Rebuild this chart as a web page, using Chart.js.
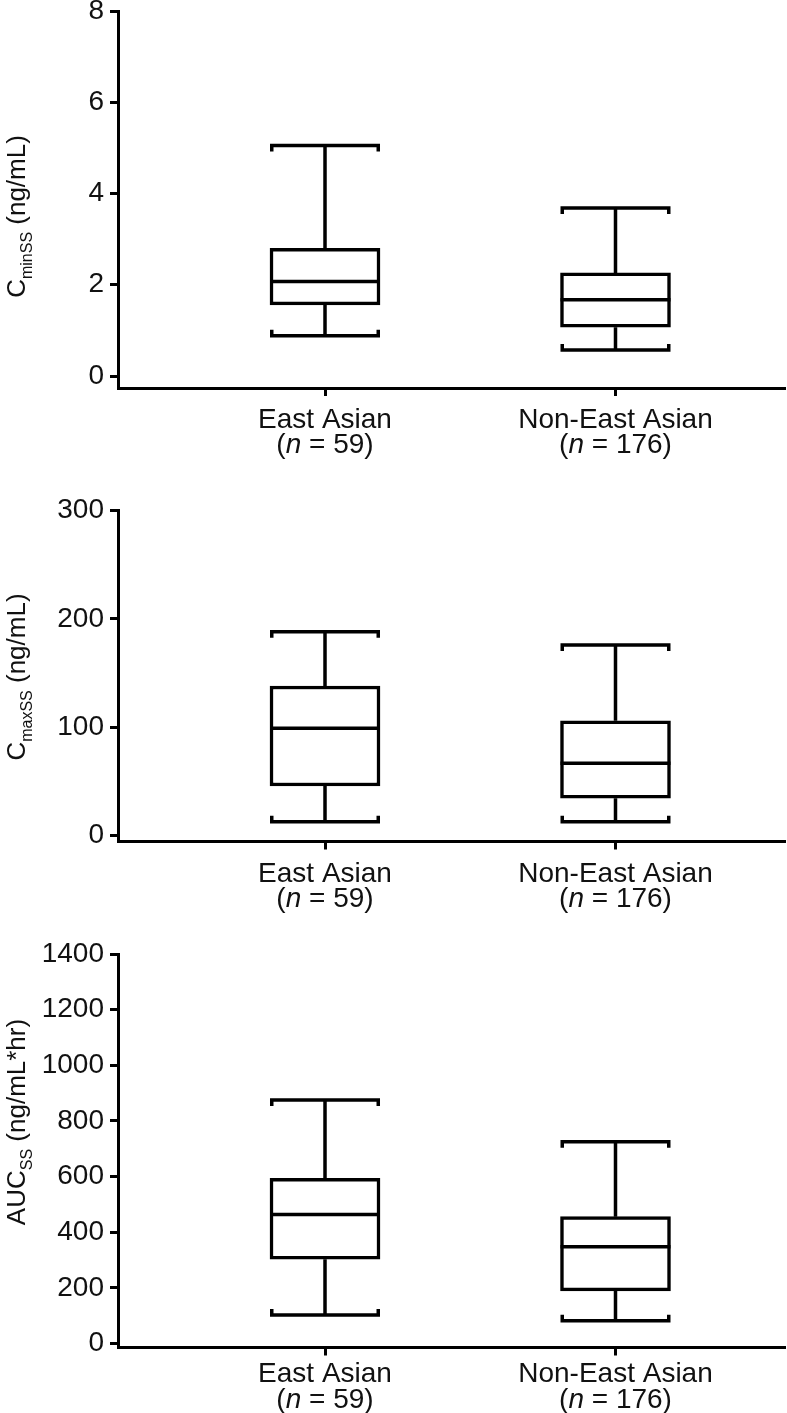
<!DOCTYPE html>
<html>
<head>
<meta charset="utf-8">
<script src="https://cdn.jsdelivr.net/npm/chart.js@4.4.1/dist/chart.umd.min.js"></script>
<style>
  html, body { margin: 0; padding: 0; background: #ffffff; }
  #wrap { position: relative; width: 787px; height: 1413px; overflow: hidden; background: #ffffff; }
  .pane { position: absolute; left: 0; }
  canvas { display: block; }
</style>
</head>
<body>
<div id="wrap">
  <div class="pane" style="top:-20px"><canvas id="c1" width="787" height="480"></canvas></div>
  <div class="pane" style="top:480px"><canvas id="c2" width="787" height="440"></canvas></div>
  <div class="pane" style="top:920px"><canvas id="c3" width="787" height="493"></canvas></div>
</div>
<script>
// ---------------- DATA ----------------
const categories = ['East Asian', 'Non-East Asian'];
const groupSizes = [59, 176];
const categoryX = [1, 2];

// Cmin,ss (ng/mL)
const cminLow    = [0.88, 0.57];
const cminQ1     = [1.56, 1.07];
const cminMedian = [2.07, 1.67];
const cminQ3     = [2.80, 2.26];
const cminHigh   = [5.05, 3.68];
const cminTicks  = [0, 2, 4, 6, 8];

// Cmax,ss (ng/mL)
const cmaxLow    = [12.7, 12.7];
const cmaxQ1     = [45.7, 34.4];
const cmaxMedian = [99.0, 66.7];
const cmaxQ3     = [138.1, 106.0];
const cmaxHigh   = [188.2, 176.0];
const cmaxTicks  = [0, 100, 200, 300];

// AUC,ss (ng/mL*hr)
const aucLow     = [102, 82];
const aucQ1      = [303, 189];
const aucMedian  = [464, 348];
const aucQ3      = [594, 456];
const aucHigh    = [875, 725];
const aucTicks   = [0, 200, 400, 600, 800, 1000, 1200, 1400];

// ---------------- STYLE ----------------
const FONT = '"Liberation Sans", Arial, Helvetica, sans-serif';
const INK = '#111111';
const LINE = '#000000';
const LW = 3.5;

function boxPlugin(stats) {
  return {
    id: 'boxWhiskers',
    afterDatasetsDraw(chart) {
      const ctx = chart.ctx;
      const xs = chart.scales.x, ys = chart.scales.y;
      const meta = chart.getDatasetMeta(0);
      ctx.save();
      ctx.strokeStyle = LINE;
      ctx.lineWidth = LW;
      ctx.lineCap = 'butt';
      ctx.lineJoin = 'miter';
      const h = LW / 2;
      meta.data.forEach((bar, i) => {
        const cx = xs.getPixelForValue(categoryX[i]);
        const half = bar.width / 2;
        const yLow = ys.getPixelForValue(stats.low[i]);
        const yQ1 = ys.getPixelForValue(stats.q1[i]);
        const yMed = ys.getPixelForValue(stats.med[i]);
        const yQ3 = ys.getPixelForValue(stats.q3[i]);
        const yHigh = ys.getPixelForValue(stats.high[i]);
        const capTick = 6;
        ctx.beginPath();
        ctx.moveTo(cx, yQ3); ctx.lineTo(cx, yHigh);
        ctx.moveTo(cx, yQ1); ctx.lineTo(cx, yLow);
        ctx.stroke();
        // caps
        ctx.beginPath();
        ctx.moveTo(cx - half + h, yHigh + capTick);
        ctx.lineTo(cx - half + h, yHigh);
        ctx.lineTo(cx + half - h, yHigh);
        ctx.lineTo(cx + half - h, yHigh + capTick);
        ctx.stroke();
        ctx.beginPath();
        ctx.moveTo(cx - half + h, yLow - capTick);
        ctx.lineTo(cx - half + h, yLow);
        ctx.lineTo(cx + half - h, yLow);
        ctx.lineTo(cx + half - h, yLow - capTick);
        ctx.stroke();
        // median
        ctx.beginPath();
        ctx.moveTo(cx - half, yMed); ctx.lineTo(cx + half, yMed);
        ctx.stroke();
      });
      ctx.restore();
    }
  };
}

function labelPlugin(opt) {
  return {
    id: 'textLabels',
    afterDraw(chart) {
      const ctx = chart.ctx;
      const xs = chart.scales.x;
      const axisY = chart.chartArea.bottom;
      const F = '28px ' + FONT, FI = 'italic 28px ' + FONT;
      ctx.save();
      ctx.fillStyle = INK;
      ctx.textBaseline = 'alphabetic';
      categories.forEach((cat, i) => {
        const cx = xs.getPixelForValue(categoryX[i]);
        ctx.font = F;
        ctx.textAlign = 'center';
        ctx.fillText(cat, cx, axisY + opt.line1);
        const pre = '(', nn = 'n', post = ' = ' + groupSizes[i] + ')';
        ctx.font = F;
        const wPre = ctx.measureText(pre).width;
        const wPost = ctx.measureText(post).width;
        ctx.font = FI;
        const wN = ctx.measureText(nn).width;
        let x = cx - (wPre + wN + wPost) / 2;
        ctx.textAlign = 'left';
        ctx.font = F;
        ctx.fillText(pre, x, axisY + opt.line2); x += wPre;
        ctx.font = FI;
        ctx.fillText(nn, x, axisY + opt.line2); x += wN;
        ctx.font = F;
        ctx.fillText(post, x, axisY + opt.line2);
      });
      // y-axis title with subscript
      ctx.translate(opt.titleX, opt.titleY);
      ctx.rotate(-Math.PI / 2);
      ctx.textAlign = 'left';
      ctx.font = '26px ' + FONT;
      const w1 = ctx.measureText(opt.titleMain).width;
      const w3 = ctx.measureText(opt.titleRest).width;
      ctx.font = '16px ' + FONT;
      const w2 = ctx.measureText(opt.titleSub).width;
      let tx = -(w1 + w2 + w3) / 2;
      ctx.font = '26px ' + FONT;
      ctx.fillText(opt.titleMain, tx, 0); tx += w1;
      ctx.font = '16px ' + FONT;
      ctx.fillText(opt.titleSub, tx, 7); tx += w2;
      ctx.font = '26px ' + FONT;
      ctx.fillText(opt.titleRest, tx, 0);
      ctx.restore();
    }
  };
}

function makeChart(id, stats, ticks, yMin, yMax, padTop, xAxisH, lab) {
  const data = categoryX.map((x, i) => ({ x: x, y: [stats.q1[i], stats.q3[i]] }));
  return new Chart(document.getElementById(id), {
    type: 'bar',
    data: {
      datasets: [{
        data: data,
        backgroundColor: '#ffffff',
        borderColor: LINE,
        borderWidth: LW,
        borderSkipped: false,
        barThickness: 110
      }]
    },
    options: {
      responsive: false,
      animation: false,
      events: [],
      layout: { padding: { top: padTop, left: 0, right: 2, bottom: 0 } },
      plugins: { legend: { display: false }, tooltip: { enabled: false } },
      scales: {
        x: {
          type: 'linear',
          offset: false,
          min: 0.2874,
          max: 2.5835,
          afterBuildTicks: sc => { sc.ticks = categoryX.map(v => ({ value: v })); },
          afterFit: sc => { sc.height = xAxisH; },
          border: { display: true, color: LINE, width: 3 },
          grid: { offset: false, drawOnChartArea: false, drawTicks: true, tickLength: 8, tickWidth: 3, tickColor: LINE },
          ticks: { display: false }
        },
        y: {
          min: yMin,
          max: yMax,
          afterBuildTicks: sc => { sc.ticks = ticks.map(v => ({ value: v })); },
          afterFit: sc => { sc.width = 118; },
          border: { display: true, color: LINE, width: 3 },
          grid: { drawOnChartArea: false, drawTicks: true, tickLength: 8, tickWidth: 3, tickColor: LINE },
          ticks: {
            color: INK,
            padding: 6,
            font: { family: FONT, size: 28, lineHeight: 1.2 },
            callback: v => String(v)
          }
        }
      }
    },
    plugins: [boxPlugin(stats), labelPlugin(lab)]
  });
}

makeChart('c1',
  { low: cminLow, q1: cminQ1, med: cminMedian, q3: cminQ3, high: cminHigh },
  cminTicks, -0.263, 8, 31, 72,
  { line1: 40, line2: 65, titleX: 25, titleY: 236.5, titleMain: 'C', titleSub: 'minSS', titleRest: ' (ng/mL)' });

makeChart('c2',
  { low: cmaxLow, q1: cmaxQ1, med: cmaxMedian, q3: cmaxQ3, high: cmaxHigh },
  cmaxTicks, -5.54, 300, 30.7, 78.5,
  { line1: 40, line2: 65, titleX: 25, titleY: 197, titleMain: 'C', titleSub: 'maxSS', titleRest: ' (ng/mL)' });

makeChart('c3',
  { low: aucLow, q1: aucQ1, med: aucMedian, q3: aucQ3, high: aucHigh },
  aucTicks, -14.4, 1400, 34, 65.5,
  { line1: 34, line2: 60, titleX: 25, titleY: 202, titleMain: 'AUC', titleSub: 'SS', titleRest: ' (ng/mL*hr)' });
</script>
</body>
</html>
